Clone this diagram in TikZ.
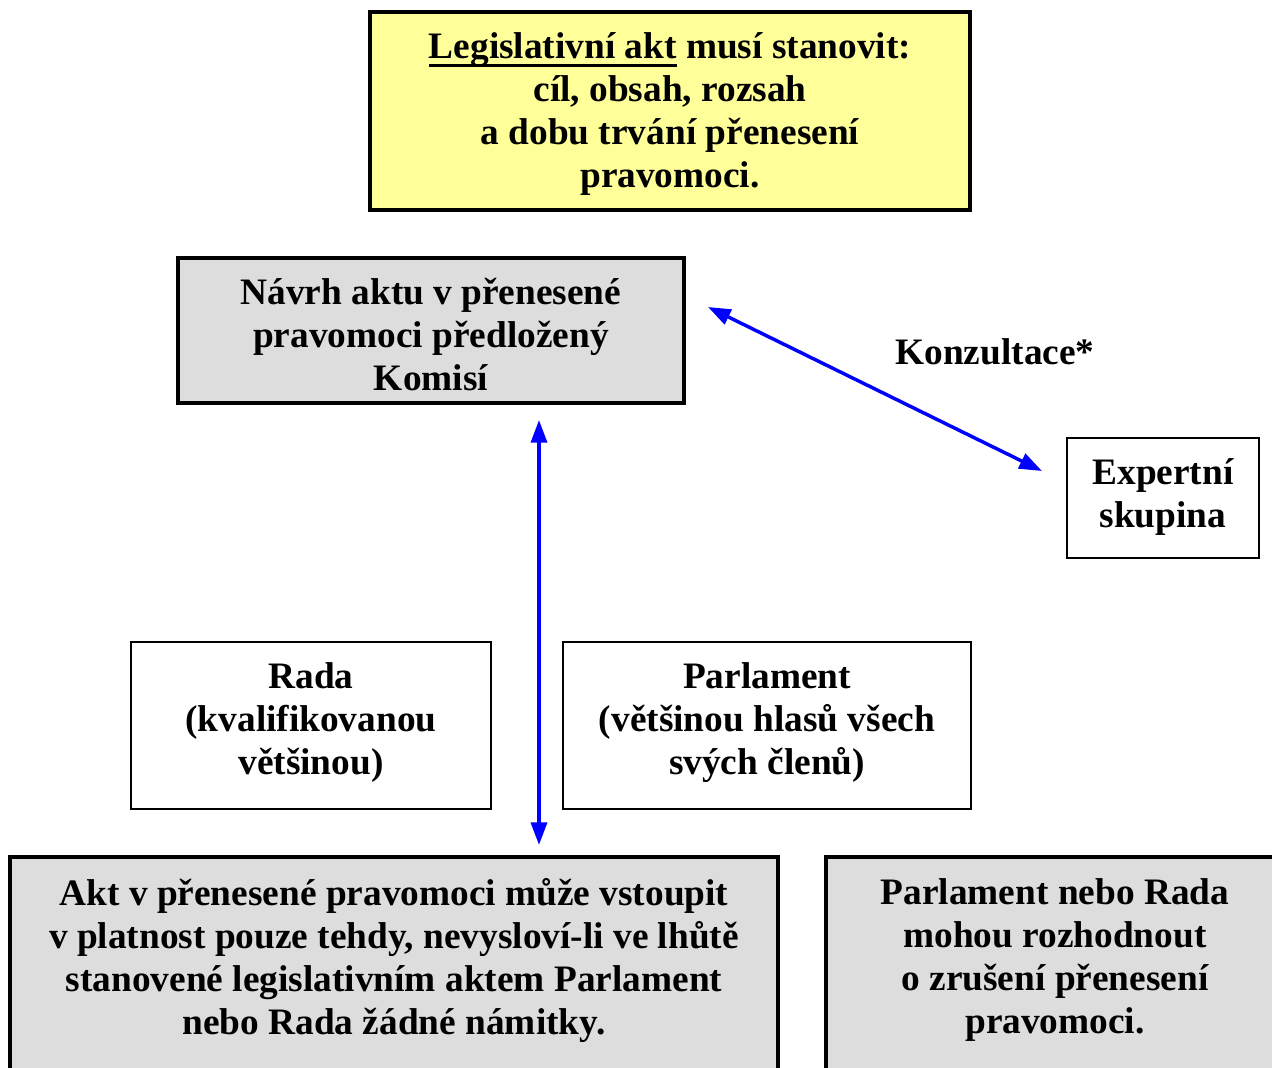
\documentclass[tikz,border=0pt]{standalone}
\usepackage{fontspec}
\setmainfont{Liberation Serif}
\usetikzlibrary{arrows.meta,calc}
\definecolor{boxyellow}{HTML}{FFFF99}
\definecolor{boxgray}{HTML}{DDDDDD}
\definecolor{arrblue}{HTML}{0000FF}
\newcommand{\ulline}[1]{\setbox0\hbox{#1}\rlap{\rule[-6.2pt]{\wd0}{1.9pt}}\box0\relax}
\begin{document}
\begin{tikzpicture}[x=0.75pt,y=-0.75pt,
  every node/.style={font=\bfseries\fontsize{28}{32.25}\selectfont, align=center, inner sep=0pt, outer sep=0pt},
  thickbox/.style={draw=black, line width=2.4pt, rectangle},
  thinbox/.style={draw=black, line width=1pt, rectangle, fill=white},
  dbl/.style={arrblue, line width=2.6pt, {Triangle[length=17pt,width=12pt]}-{Triangle[length=17pt,width=12pt]}}
]
\useasboundingbox (0,0) rectangle (1272,1068);
\clip (0,0) rectangle (1272,1068);

% boxes
\node[thickbox, fill=boxyellow, minimum width=450pt, minimum height=148.5pt] (top) at (670,111) {};
\node[thickbox, fill=boxgray, minimum width=379.5pt, minimum height=108.75pt] (nav) at (431,330.5) {};
\node[thinbox, minimum width=144pt, minimum height=90pt] (exp) at (1163,498) {};
\node[thinbox, minimum width=270pt, minimum height=125.25pt] (rada) at (311,725.5) {};
\node[thinbox, minimum width=306pt, minimum height=125.25pt] (parl) at (767,725.5) {};
\node[thickbox, fill=boxgray, minimum width=576pt, minimum height=195pt, anchor=north] (bl) at (394,857) {};
\node[thickbox, fill=boxgray, minimum width=360pt, minimum height=195pt, anchor=north west] (br) at (826,857) {};

% texts
\node (topt) at (670,114)
  {\ulline{Legislativní akt} musí stanovit:\\cíl, obsah, rozsah\\a dobu trvání přenesení\\pravomoci.};
\node (navt) at (431,334.5)
  {Návrh aktu v přenesené\\pravomoci předložený\\Komisí};
\node (expt) at (1163,497) {Expertní\\skupina};
\node (konz) at (995,352) {Konzultace*};
\node (radat) at (311,722.5) {Rada\\(kvalifikovanou\\většinou)};
\node (parlt) at (767,722.5) {Parlament\\(většinou hlasů všech\\svých členů)};
\node (blt) at (394,960)
  {Akt v přenesené pravomoci může vstoupit\\v platnost pouze tehdy, nevysloví-li ve lhůtě\\stanovené legislativním aktem Parlament\\nebo Rada žádné námitky.};
\node (brt) at (1055,960)
  {Parlament nebo Rada\\mohou rozhodnout\\o zrušení přenesení\\pravomoci.};

% connectors
\coordinate (k1) at (708,307);
\coordinate (k2) at (1042,471);
\draw[dbl] (k1) -- (k2);

\coordinate (vx) at (539,0);
\draw[dbl] ($(vx |- nav.south)+(0,17)$) -- ($(vx |- bl.north)+(0,-12)$);
\end{tikzpicture}
\end{document}
